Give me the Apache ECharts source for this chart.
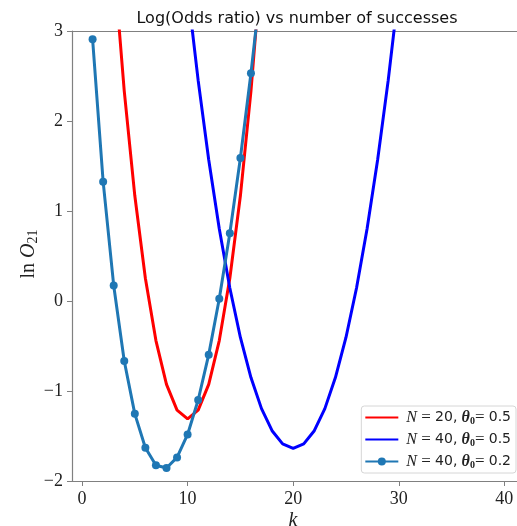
<!DOCTYPE html>
<html>
<head>
<meta charset="utf-8">
<script src="https://cdn.jsdelivr.net/npm/echarts@6/dist/echarts.min.js"></script>
<style>
  html, body { margin: 0; padding: 0; background: #fff; }
  #main { width: 517px; height: 526px; }
</style>
</head>
<body>
<div id="main"></div>
<script>
// 数据：ln O21 随成功次数 k 变化
var kN20 = [0,1,2,3,4,5,6,7,8,9,10,11,12,13,14,15,16,17,18,19,20];
var lnO_N20_t05 = [10.818,7.822,5.571,3.779,2.332,1.169,0.253,-0.440,-0.926,-1.213,-1.309,
                   -1.213,-0.926,-0.440,0.253,1.169,2.332,3.779,5.571,7.822,10.818];

var kN40 = [0,1,2,3,4,5,6,7,8,9,10,11,12,13,14,15,16,17,18,19,20,
            21,22,23,24,25,26,27,28,29,30,31,32,33,34,35,36,37,38,39,40];
var lnO_N40_t05 = [24.012,20.323,17.353,14.814,12.589,10.615,8.851,7.271,5.854,4.585,3.454,
                   2.451,1.569,0.802,0.145,-0.405,-0.851,-1.196,-1.441,-1.588,-1.637,
                   -1.588,-1.441,-1.196,-0.851,-0.405,0.145,0.802,1.569,2.451,3.454,
                   4.585,5.854,7.271,8.851,10.615,12.589,14.814,17.353,20.323,24.012];

var kN40b = [1,2,3,4,5,6,7,8,9,10,11,12,13,14,15,16,17,18];
var lnO_N40_t02 = [2.909,1.326,0.173,-0.666,-1.254,-1.631,-1.825,-1.856,-1.738,-1.483,
                   -1.100,-0.596,0.024,0.753,1.589,2.530,3.571,4.712];

var xTicks = [0, 10, 20, 30, 40];

var legendText = {
	N20_05: '{i|N} = {s|20,} {b|θ}{sub|0}= {s|0.5}',
	N40_05: '{i|N} = {s|40,} {b|θ}{sub|0}= {s|0.5}',
	N40_02: '{i|N} = {s|40,} {b|θ}{sub|0}= {s|0.2}'
};

function pairs(xs, ys) {
	var out = [];
	for (var i = 0; i < xs.length; i++) out.push([xs[i], ys[i]]);
	return out;
}
function minusFmt(v) {
	return String(v).replace('-', '\u2212');
}

var SERIF = '"Liberation Serif", "DejaVu Serif", serif';
var SANS = '"DejaVu Sans", sans-serif';
var spine = '#808080';

var myChart = echarts.init(document.getElementById('main'), null, { renderer: 'canvas' });

var option = {
	animation: false,
	backgroundColor: '#fff',
	grid: { left: 72, top: 31, right: 0, bottom: 45, containLabel: false },
	xAxis: [{
		type: 'value',
		min: -0.95, max: 41.2,
		axisLine: { onZero: false, lineStyle: { color: spine, width: 1.2 } },
		axisTick: { show: true, customValues: xTicks, length: 5, lineStyle: { color: spine } },
		axisLabel: { customValues: xTicks, margin: 9, color: '#222', fontFamily: SERIF, fontSize: 18, formatter: minusFmt },
		splitLine: { show: false }
	}, {
		type: 'value', position: 'top',
		min: -0.95, max: 41.2,
		axisLine: { onZero: false, lineStyle: { color: spine, width: 1.2 } },
		axisTick: { show: false }, axisLabel: { show: false }, splitLine: { show: false }
	}],
	yAxis: {
		type: 'value',
		min: -2, max: 3, interval: 1,
		axisLine: { show: true, onZero: false, lineStyle: { color: spine, width: 1.2 } },
		axisTick: { show: true, length: 5, lineStyle: { color: spine } },
		axisLabel: { margin: 9, color: '#222', fontFamily: SERIF, fontSize: 18, formatter: minusFmt },
		splitLine: { show: false }
	},
	legend: {
		orient: 'vertical',
		right: 1, bottom: 53,
		itemWidth: 33, itemHeight: 10, itemGap: 5,
		padding: [3, 5, 3, 3],
		backgroundColor: '#fff',
		borderColor: '#d6d6d6', borderWidth: 1, borderRadius: 3,
		data: [
			{ name: 'N20_05', itemStyle: { opacity: 0 } },
			{ name: 'N40_05', itemStyle: { opacity: 0 } },
			{ name: 'N40_02' }
		],
		formatter: function(name) { return legendText[name]; },
		textStyle: {
			color: '#222', fontSize: 17, fontFamily: SERIF, padding: [0, 0, 0, 3],
			rich: {
				i: { fontFamily: SERIF, fontStyle: 'italic', fontSize: 16, color: '#222' },
				s: { fontFamily: SANS, fontSize: 14, color: '#222' },
				b: { fontFamily: SERIF, fontStyle: 'italic', fontWeight: 'bold', fontSize: 16, color: '#222' },
				sub: { fontFamily: SERIF, fontWeight: 'bold', fontSize: 10, color: '#222', padding: [7, 0, 0, 0] }
			}
		}
	},
	graphic: [{
		type: 'text',
		x: 297, y: 19,
		style: { text: 'Log(Odds ratio) vs number of successes', fontFamily: SANS, fontSize: 16,
			fill: '#111', align: 'center', verticalAlign: 'middle' }
	}, {
		type: 'text',
		x: 29, y: 254, rotation: Math.PI / 2,
		style: { text: 'ln {i|O}{sub|21}', fontFamily: SERIF, fontSize: 20, fill: '#222',
			align: 'center', verticalAlign: 'middle',
			rich: {
				i: { fontFamily: SERIF, fontStyle: 'italic', fontSize: 20, fill: '#222' },
				sub: { fontFamily: SERIF, fontSize: 14, fill: '#222', padding: [9, 0, 0, 0] }
			} }
	}, {
		type: 'text',
		x: 293, y: 521,
		style: { text: 'k', fontFamily: SERIF, fontStyle: 'italic', fontSize: 20, fill: '#222',
			align: 'center', verticalAlign: 'middle' }
	}],
	series: [{
		name: 'N20_05', type: 'line', clip: true,
		data: pairs(kN20, lnO_N20_t05),
		symbol: 'none',
		lineStyle: { color: '#ff0000', width: 3 },
		itemStyle: { color: '#ff0000' }
	}, {
		name: 'N40_05', type: 'line', clip: true,
		data: pairs(kN40, lnO_N40_t05),
		symbol: 'none',
		lineStyle: { color: '#0000ff', width: 3 },
		itemStyle: { color: '#0000ff' }
	}, {
		name: 'N40_02', type: 'line', clip: true,
		data: pairs(kN40b, lnO_N40_t02),
		symbol: 'circle', symbolSize: 8,
		lineStyle: { color: '#1f77b4', width: 3 },
		itemStyle: { color: '#1f77b4' }
	}]
};
myChart.setOption(option);
</script>
</body>
</html>
